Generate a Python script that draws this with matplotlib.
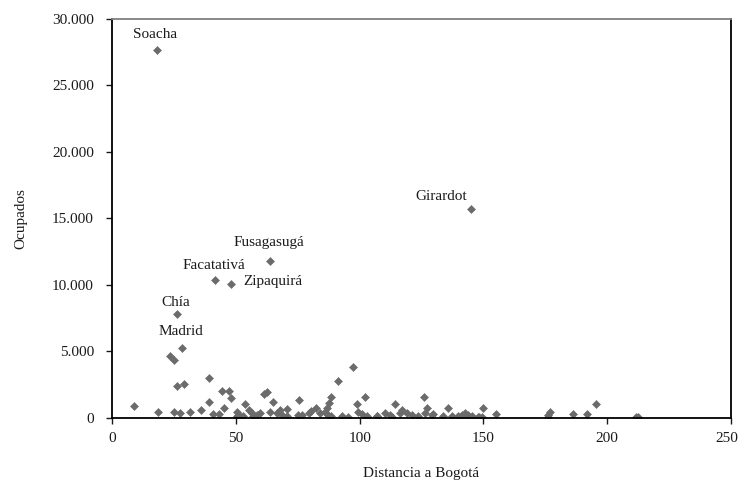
import matplotlib
matplotlib.use("Agg")
import matplotlib.pyplot as plt
from matplotlib.ticker import FuncFormatter, MultipleLocator

plt.rcParams['font.family'] = ['Liberation Serif', 'DejaVu Serif']

# Municipalities with a label: distance to Bogotá (km) and employed people
named = ["Soacha", "Girardot", "Fusagasugá", "Facatativá", "Zipaquirá", "Chía", "Madrid"]
named_dist = [18.2, 145.0, 63.8, 41.6, 48.1, 26.3, 28.1]
named_occ = [27670, 15700, 11800, 10380, 10080, 7820, 5240]

# Label anchor positions (data units)
label_x = [17.4, 132.9, 63.4, 41.2, 65.0, 25.6, 27.7]
label_y = [28800, 16690, 13160, 11500, 10230, 8650, 6540]

# Remaining municipalities
dist = [23.4, 25.0, 9.0, 18.7, 25.0, 27.3, 26.1, 29.1, 31.5, 35.9, 39.2, 39.3,
        40.6, 43.2, 44.5, 47.1, 45.1, 48.2, 50.5, 51.3, 50.3, 53.8, 55.5, 56.4,
        57.1, 59.8, 61.4, 62.5, 65.2, 63.8, 66.5, 67.9, 68.5, 70.8, 70.5, 75.4,
        75.3, 76.6, 79.7, 80.5, 82.2, 84.0, 86.0, 86.7, 87.3, 87.7, 88.4, 88.4,
        91.1, 97.2, 98.8, 99.2, 100.8, 102.8, 102.2, 103.0, 107.1, 106.9, 110.3,
        112.3, 112.9, 114.1, 116.3, 117.0, 119.3, 121.0, 126.2, 127.4, 126.4,
        129.1, 129.8, 133.8, 135.8, 139.9, 140.5, 141.2, 142.6, 143.2, 143.9,
        145.2, 147.9, 148.3, 149.3, 149.7, 155.1, 176.2, 176.9, 176.2, 186.1,
        192.0, 195.3, 211.5, 212.5, 53.0, 58.5, 93.0, 95.5, 123.5, 137.5]
occ = [4660, 4330, 920, 440, 430, 410, 2380, 2535, 420, 600, 2970, 1180,
       330, 300, 2000, 2000, 740, 1480, 450, 220, 150, 1040, 600, 350,
       170, 350, 1800, 1920, 1180, 475, 400, 600, 225, 700, 150, 1355,
       225, 225, 350, 550, 730, 350, 475, 780, 225, 1100, 150, 1555,
       2805, 3800, 1050, 450, 300, 100, 1570, 130, 150, 120, 400,
       225, 100, 1040, 350, 580, 350, 225, 1580, 740, 350,
       225, 300, 150, 715, 150, 100, 225, 350, 180, 225,
       150, 90, 100, 50, 730, 330, 225, 475, 50, 300,
       300, 1050, 100, 50, 120, 200, 150, 100, 120, 160]

x_max = 250

fig = plt.figure(figsize=(7.39, 4.82), dpi=100)
ax = fig.add_axes([0.1516, 0.1328, 0.8376, 0.8278])

mcolor = "#6b6b6b"
ax.plot(dist, occ, linestyle="none", marker="D", markersize=3.8,
        color=mcolor, markeredgewidth=0.4, markeredgecolor=mcolor)
ax.plot(named_dist, named_occ, linestyle="none", marker="D", markersize=3.8,
        color=mcolor, markeredgewidth=0.4, markeredgecolor=mcolor)

for name, tx, ty in zip(named, label_x, label_y):
    ax.text(tx, ty, name, ha="center", va="center", fontsize=11, color="#1a1a1a")

ax.set_xlim(0, x_max)
ax.set_ylim(0, 30000)
ax.xaxis.set_major_locator(MultipleLocator(50))
ax.yaxis.set_major_locator(MultipleLocator(5000))
ax.yaxis.set_major_formatter(FuncFormatter(lambda v, p: f"{int(v):,}".replace(",", ".")))
# the last x label is drawn separately, nudged so it stays on the canvas
ax.xaxis.set_major_formatter(FuncFormatter(lambda v, p: "" if v >= x_max else f"{int(v)}"))
ax.annotate(f"{x_max}", xy=(x_max, 0), xycoords=("data", "axes fraction"),
            xytext=(-3, -10), textcoords="offset points", ha="center", va="top",
            fontsize=11, color="#1a1a1a", annotation_clip=False)

ax.tick_params(axis="both", direction="out", length=4, width=1, labelsize=11,
               colors="#1a1a1a", pad=6)
ax.tick_params(axis="y", pad=9)

for side in ("left", "bottom", "right"):
    ax.spines[side].set_color("black")
    ax.spines[side].set_linewidth(1.3)
ax.spines["top"].set_color("#808080")
ax.spines["top"].set_linewidth(1.3)

ax.set_xlabel("Distancia a Bogotá", fontsize=11, labelpad=16, color="#1a1a1a")
ax.set_ylabel("Ocupados", fontsize=11, labelpad=18, color="#1a1a1a")

fig.savefig("out.png", dpi=100)
